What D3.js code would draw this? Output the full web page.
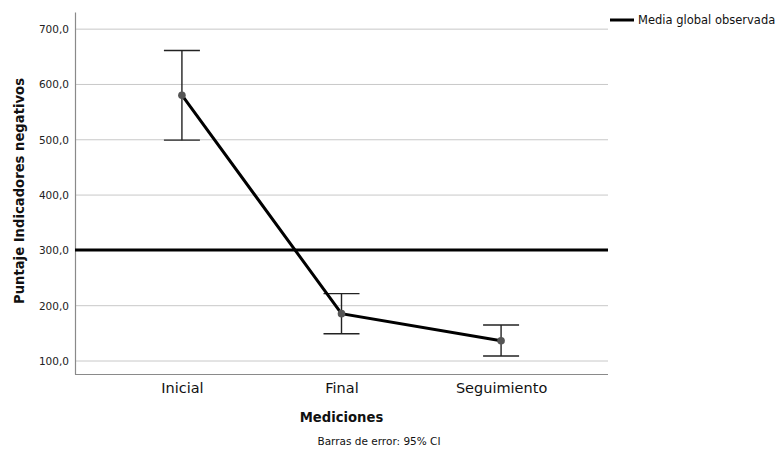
<!DOCTYPE html>
<html>
<head>
<meta charset="utf-8">
<script src="https://cdn.jsdelivr.net/npm/d3@7/dist/d3.min.js"></script>
<style>
  html, body { margin: 0; padding: 0; background: #fff; }
  svg { display: block; font-family: "DejaVu Sans", sans-serif; }
</style>
</head>
<body>
<svg id="chart" width="781" height="453"></svg>
<script>
// Mean score per measurement with 95% CI bounds
const categories = ["Inicial", "Final", "Seguimiento"];
const means = [580.6, 185.6, 136.7];
const ciLow = [499.3, 149.4, 109.0];
const ciHigh = [661.3, 221.8, 165.1];
const grandMean = 300.7;
const yTicks = [100, 200, 300, 400, 500, 600, 700];
const yLabel = "Puntaje Indicadores negativos";
const xLabel = "Mediciones";
const legendLabel = "Media global observada";
const footnote = "Barras de error: 95% CI";

const svg = d3.select("#chart");
const plotLeft = 75, plotRight = 608, plotTop = 12, plotBottom = 374;

const x = d3.scalePoint().domain(categories).range([plotLeft, plotRight]).padding(0.67);
const y = d3.scaleLinear().domain([76.5, 731]).range([plotBottom, plotTop]);

// horizontal gridlines
svg.append("g").selectAll("line").data(yTicks).join("line")
  .attr("x1", plotLeft).attr("x2", plotRight)
  .attr("y1", d => y(d)).attr("y2", d => y(d))
  .attr("stroke", "#c8c8c8").attr("stroke-width", 1);

// y axis
const yAxis = svg.append("g").attr("transform", `translate(${plotLeft},0)`)
  .call(d3.axisLeft(y).tickValues(yTicks).tickSize(0).tickPadding(6)
    .tickFormat(d => d3.format(".1f")(d).replace(".", ",")));
yAxis.select(".domain").attr("stroke", "#8a8a8a").attr("stroke-width", 1.2);
yAxis.selectAll("text").attr("font-size", 10.5).attr("fill", "#222")
  .attr("font-family", "DejaVu Sans, sans-serif");

// x axis
const xAxis = svg.append("g").attr("transform", `translate(0,${plotBottom})`)
  .call(d3.axisBottom(x).tickSize(0).tickPadding(9));
xAxis.select(".domain").attr("stroke", "#8a8a8a").attr("stroke-width", 1.2)
  .attr("d", `M${plotLeft},0.5H${plotRight}`);
xAxis.selectAll("text").attr("font-size", 14.5).attr("fill", "#111")
  .attr("font-family", "DejaVu Sans, sans-serif");

// grand mean reference line
svg.append("line")
  .attr("x1", plotLeft).attr("x2", plotRight)
  .attr("y1", y(grandMean)).attr("y2", y(grandMean))
  .attr("stroke", "#000").attr("stroke-width", 3);

// error bars
const eb = svg.append("g").attr("stroke", "#222").attr("stroke-width", 1.4);
categories.forEach((c, i) => {
  const cx = x(c);
  eb.append("line").attr("x1", cx).attr("x2", cx).attr("y1", y(ciLow[i])).attr("y2", y(ciHigh[i]));
  eb.append("line").attr("x1", cx - 18).attr("x2", cx + 18).attr("y1", y(ciLow[i])).attr("y2", y(ciLow[i]));
  eb.append("line").attr("x1", cx - 18).attr("x2", cx + 18).attr("y1", y(ciHigh[i])).attr("y2", y(ciHigh[i]));
});

// mean trend line
svg.append("path")
  .datum(categories.map((c, i) => [x(c), y(means[i])]))
  .attr("fill", "none").attr("stroke", "#000").attr("stroke-width", 3)
  .attr("d", d3.line());

// mean markers
svg.append("g").selectAll("circle").data(means).join("circle")
  .attr("cx", (d, i) => x(categories[i])).attr("cy", d => y(d))
  .attr("r", 3.8).attr("fill", "#555");

// axis titles
svg.append("text")
  .attr("transform", `translate(24,191) rotate(-90)`)
  .attr("text-anchor", "middle").attr("font-size", 13.2).attr("font-weight", "bold")
  .attr("fill", "#111").text(yLabel);

svg.append("text")
  .attr("x", x("Final")).attr("y", 422)
  .attr("text-anchor", "middle").attr("font-size", 13.2).attr("font-weight", "bold")
  .attr("fill", "#111").text(xLabel);

svg.append("text")
  .attr("x", 379).attr("y", 445)
  .attr("text-anchor", "middle").attr("font-size", 10.5)
  .attr("fill", "#111").text(footnote);

// legend
svg.append("line").attr("x1", 610).attr("x2", 634).attr("y1", 20).attr("y2", 20)
  .attr("stroke", "#000").attr("stroke-width", 3);
svg.append("text").attr("x", 638).attr("y", 24)
  .attr("font-size", 11.5).attr("fill", "#111").text(legendLabel);
</script>
</body>
</html>
